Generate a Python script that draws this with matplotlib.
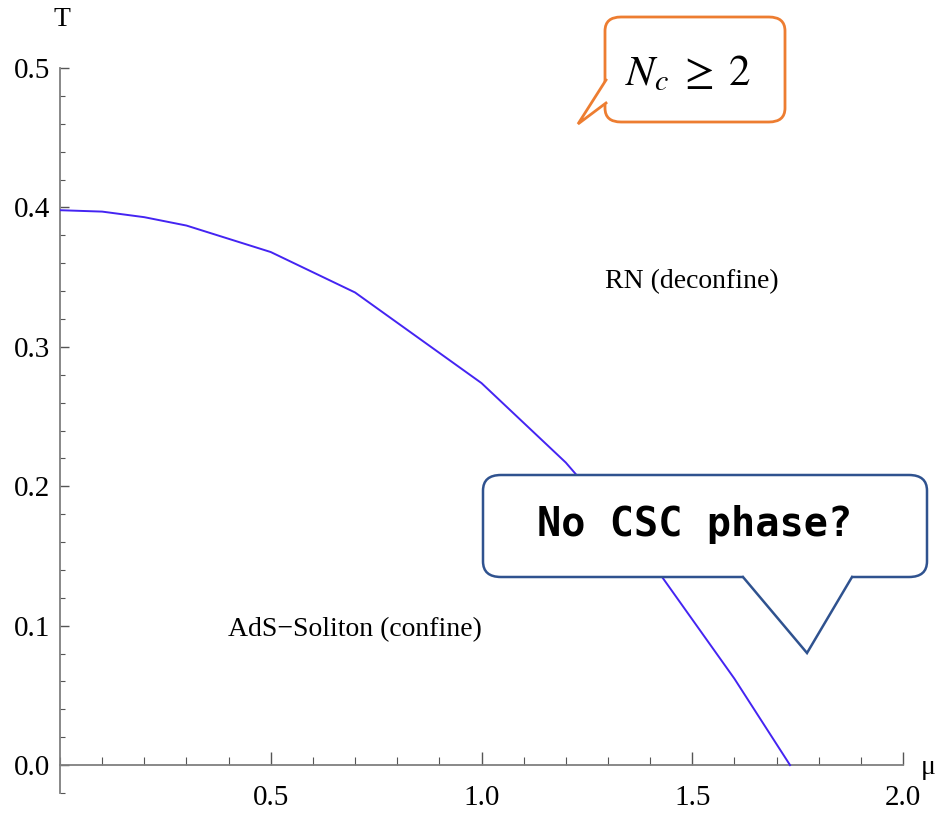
import matplotlib
matplotlib.use("Agg")
import matplotlib.pyplot as plt
from matplotlib.patches import FancyBboxPatch, Polygon
from matplotlib.lines import Line2D
from matplotlib.ticker import MultipleLocator

# phase boundary T(mu)
mu = [0.0, 0.1, 0.2, 0.3, 0.5, 0.7, 1.0, 1.2, 1.4, 1.6, 1.732]
T = [0.398, 0.397, 0.393, 0.387, 0.368, 0.339, 0.274, 0.217, 0.147, 0.062, 0.0]

x_major = [0.5, 1.0, 1.5, 2.0]
x_tick_labels = ["0.5", "1.0", "1.5", "2.0"]
y_major = [0.0, 0.1, 0.2, 0.3, 0.4, 0.5]
y_tick_labels = ["0.0", "0.1", "0.2", "0.3", "0.4", "0.5"]

W, H = 940, 817
serif = "Liberation Serif"

fig = plt.figure(figsize=(W / 100, H / 100), dpi=100)


def fx(px):
    return px / W


def fy(py):
    return 1 - py / H


ax = fig.add_axes([fx(60), fy(793), fx(903) - fx(60), fy(68) - fy(793)])
ax.set_xlim(0, 2.0)
ax.set_ylim(-0.02, 0.5)
ax.patch.set_visible(False)

ax.plot(mu, T, color="#4424F2", lw=1.4, zorder=3)

# Mathematica-style crossing axes
for s in ["top", "right"]:
    ax.spines[s].set_visible(False)
ax.spines["bottom"].set_position(("data", 0))
ax.spines["left"].set_position(("data", 0))
for s in ["bottom", "left"]:
    ax.spines[s].set_color("#7f7f7f")
    ax.spines[s].set_linewidth(1.3)

ax.set_xticks(x_major)
ax.set_xticklabels(x_tick_labels, family=serif, fontsize=21)
ax.xaxis.set_minor_locator(MultipleLocator(0.1))
ax.set_yticks(y_major)
ax.set_yticklabels(y_tick_labels, family=serif, fontsize=21)
ax.yaxis.set_minor_locator(MultipleLocator(0.02))
ax.tick_params(axis="x", which="major", direction="in", length=9.5, width=1, color="#555555", pad=14)
ax.tick_params(axis="x", which="minor", direction="in", length=5.5, width=0.8, color="#555555")
ax.tick_params(axis="y", which="major", direction="in", length=6.5, width=1, color="#555555", pad=7)
ax.tick_params(axis="y", which="minor", direction="in", length=3.6, width=0.8, color="#555555")

ax.text(1.50, 0.347, "RN (deconfine)", family=serif, fontsize=20, ha="center", va="center")
ax.text(0.70, 0.097, "AdS\u2212Soliton (confine)", family=serif, fontsize=20, ha="center", va="center")

fig.text(fx(62), fy(20), "T", family=serif, fontsize=20, ha="center", va="center")
fig.text(fx(921), fy(768), "\u03bc", family=serif, fontsize=20, ha="left", va="center")


def bubble(box, tail, color, lw, rad):
    x0, y0, x1, y1 = box
    p = FancyBboxPatch((fx(x0), fy(y1)), fx(x1) - fx(x0), fy(y0) - fy(y1),
                       boxstyle="round,pad=0,rounding_size=%f" % fx(rad),
                       transform=fig.transFigure, facecolor="white",
                       edgecolor=color, lw=lw, zorder=10)
    fig.add_artist(p)
    pts = [(fx(a), fy(b)) for a, b in tail]
    # white cover so the box edge is open where the tail joins
    cx, cy = fx(tail[1][0]), fy(tail[1][1])
    cover = []
    for a, b in [tail[0], tail[1], tail[2]]:
        cover.append((fx(a), fy(b)))
    mx = (cover[0][0] + cover[2][0]) / 2
    my = (cover[0][1] + cover[2][1]) / 2
    inner = [(q[0] + (mx - cx) * 0.06, q[1] + (my - cy) * 0.06) for q in (cover[0], cover[2])]
    fig.add_artist(Polygon([cover[0], cover[1], cover[2], inner[1], inner[0]], closed=True,
                           transform=fig.transFigure, facecolor="white",
                           edgecolor="none", zorder=11))
    xs = [q[0] for q in pts]
    ys = [q[1] for q in pts]
    fig.add_artist(Line2D(xs, ys, transform=fig.transFigure, color=color,
                          lw=lw, zorder=12, solid_joinstyle="miter"))


# orange callout (N_c >= 2)
bubble((605, 17, 785, 122), [(606, 80), (578, 124), (606, 103)], "#ED7D31", 2.0, 16)
fig.text(fx(688), fy(73), r"$N_c\;\geq\;2$", fontsize=31, math_fontfamily="stix",
         ha="center", va="center", zorder=13)

# blue callout
bubble((483, 475, 927, 577), [(743, 577), (807, 653), (852, 577)], "#2F528F", 1.8, 18)
fig.text(fx(695), fy(525), "No CSC phase?", family="DejaVu Sans Mono", weight="bold",
         fontsize=29, ha="center", va="center", zorder=13)

fig.savefig("out.png", dpi=100)
